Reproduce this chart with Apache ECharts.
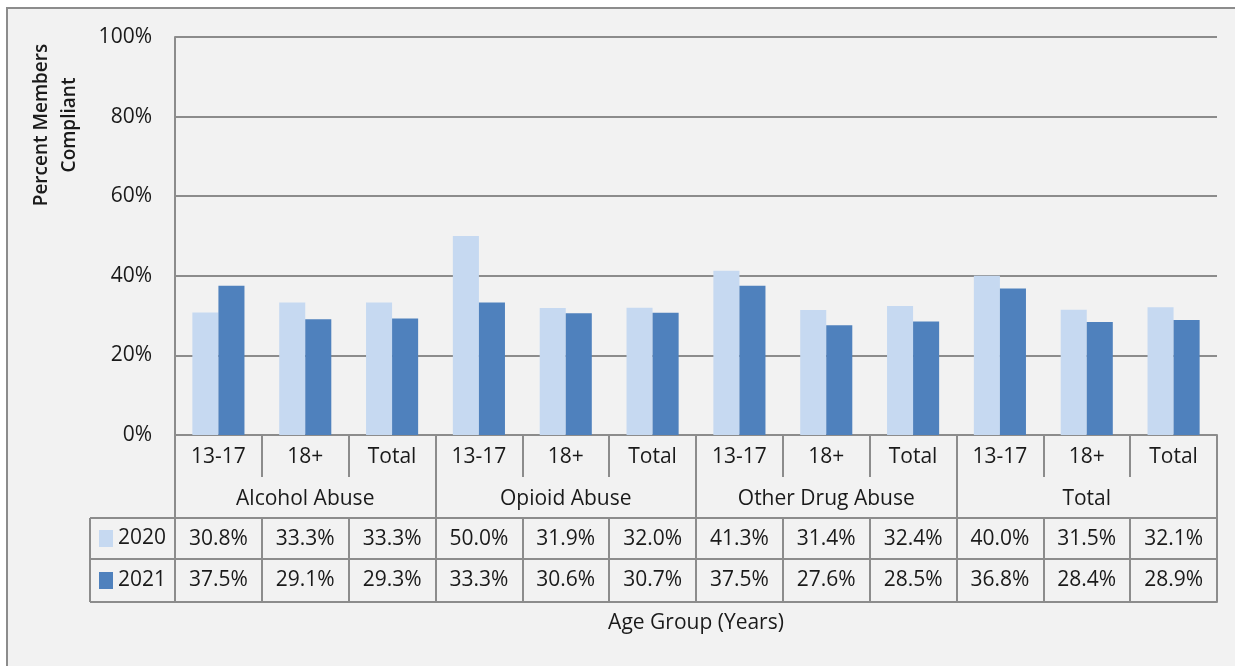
<!DOCTYPE html>
<html>
<head>
<meta charset="utf-8">
<script src="https://cdn.jsdelivr.net/npm/echarts@6/dist/echarts.min.js"></script>
<style>
  html, body { margin: 0; padding: 0; background: #fff; }
  #chart { width: 1235px; height: 666px; }
</style>
</head>
<body>
<div id="chart"></div>
<script>
// data
var groups = ["Alcohol Abuse", "Opioid Abuse", "Other Drug Abuse", "Total"];
var ages = ["13-17", "18+", "Total"];
var years = ["2020", "2021"];
var values2020 = [30.8, 33.3, 33.3, 50.0, 31.9, 32.0, 41.3, 31.4, 32.4, 40.0, 31.5, 32.1];
var values2021 = [37.5, 29.1, 29.3, 33.3, 30.6, 30.7, 37.5, 27.6, 28.5, 36.8, 28.4, 28.9];
var yTicks = [0, 20, 40, 60, 80, 100];

var font = "Open Sans";
var textColor = "#1a1a1a";
var lineColor = "#8c8c8c";

// plot box (window.top is reserved, so prefixed names)
var plotLeft = 175, plotRight = 1217, plotTop = 37, plotBottom = 435;
var rowSub = 477, rowGroup = 518, row2020 = 559, row2021 = 602, legendLeft = 90;

var subLabels = [];
groups.forEach(function () {
  ages.forEach(function (a) { subLabels.push(a); });
});
function pct(v) { return v.toFixed(1) + "%"; }

function rowAxis(data, offset, tickLen, margin, extra) {
  var ax = {
    type: "category",
    position: "bottom",
    offset: offset,
    data: data,
    axisLine: { show: true, lineStyle: { color: lineColor, width: 2 } },
    axisTick: { show: true, inside: true, length: tickLen, interval: 0, lineStyle: { color: lineColor, width: 2 } },
    axisLabel: { inside: true, interval: 0, margin: margin, color: textColor, fontFamily: font, fontSize: 21 },
    splitLine: { show: false }
  };
  return Object.assign(ax, extra || {});
}

function hline(x1, x2, y) {
  return { type: "line", shape: { x1: x1, y1: y, x2: x2, y2: y }, style: { stroke: lineColor, lineWidth: 2 } };
}

var chart = echarts.init(document.getElementById("chart"));

chart.setOption({
  backgroundColor: "#ffffff",
  animation: false,
  textStyle: { fontFamily: font },
  grid: { left: plotLeft, right: 1235 - plotRight, top: plotTop, bottom: 666 - plotBottom },
  legend: {
    data: years,
    orient: "vertical",
    left: 99,
    top: 528,
    padding: 0,
    itemGap: 21,
    itemWidth: 14,
    itemHeight: 17,
    icon: "rect",
    textStyle: { color: textColor, fontFamily: font, fontSize: 21 }
  },
  xAxis: [
    {
      type: "category",
      position: "bottom",
      data: subLabels,
      axisLine: { show: true, lineStyle: { color: lineColor, width: 2 } },
      axisTick: { show: true, length: rowSub - plotBottom, interval: 0, lineStyle: { color: lineColor, width: 2 } },
      axisLabel: { interval: 0, margin: 12, color: textColor, fontFamily: font, fontSize: 21 },
      splitLine: { show: false }
    },
    rowAxis(groups, rowGroup - plotBottom, rowGroup - plotBottom, 8),
    rowAxis(values2020.map(pct), row2020 - plotBottom, row2020 - rowGroup, 9),
    rowAxis(values2021.map(pct), row2021 - plotBottom, row2021 - row2020, 11, {
      name: "Age Group (Years)",
      nameLocation: "middle",
      nameGap: 11,
      nameTextStyle: { color: textColor, fontFamily: font, fontSize: 21, verticalAlign: "top" }
    })
  ],
  yAxis: {
    type: "value",
    min: yTicks[0],
    max: yTicks[yTicks.length - 1],
    interval: 20,
    axisLine: { show: true, lineStyle: { color: lineColor, width: 2 } },
    axisTick: { show: false },
    axisLabel: { formatter: "{value}%", margin: 23, padding: [3, 0, 0, 0], color: textColor, fontFamily: font, fontSize: 21 },
    splitLine: { show: true, lineStyle: { color: lineColor, width: 2 } }
  },
  series: [
    {
      name: years[0],
      type: "bar",
      data: values2020,
      barGap: "0%",
      barCategoryGap: "40%",
      itemStyle: { color: "#c6d9f1" }
    },
    {
      name: years[1],
      type: "bar",
      data: values2021,
      barGap: "0%",
      barCategoryGap: "40%",
      itemStyle: { color: "#4f81bd" }
    }
  ],
  graphic: [
    {
      type: "rect",
      z: -10,
      shape: { x: 7, y: 8, width: 1300, height: 700 },
      style: { fill: "#f2f2f2", stroke: lineColor, lineWidth: 2 }
    },
    {
      type: "text",
      x: 56,
      y: 125,
      rotation: Math.PI / 2,
      style: {
        text: "Percent Members\nCompliant",
        fill: textColor,
        font: "600 19px 'Open Sans'",
        align: "center",
        verticalAlign: "middle",
        lineHeight: 28
      }
    },
    hline(legendLeft, plotLeft, rowGroup),
    hline(legendLeft, plotLeft, row2020),
    hline(legendLeft, plotLeft, row2021),
    { type: "line", shape: { x1: legendLeft, y1: rowGroup, x2: legendLeft, y2: row2021 }, style: { stroke: lineColor, lineWidth: 2 } }
  ]
});
</script>
</body>
</html>
